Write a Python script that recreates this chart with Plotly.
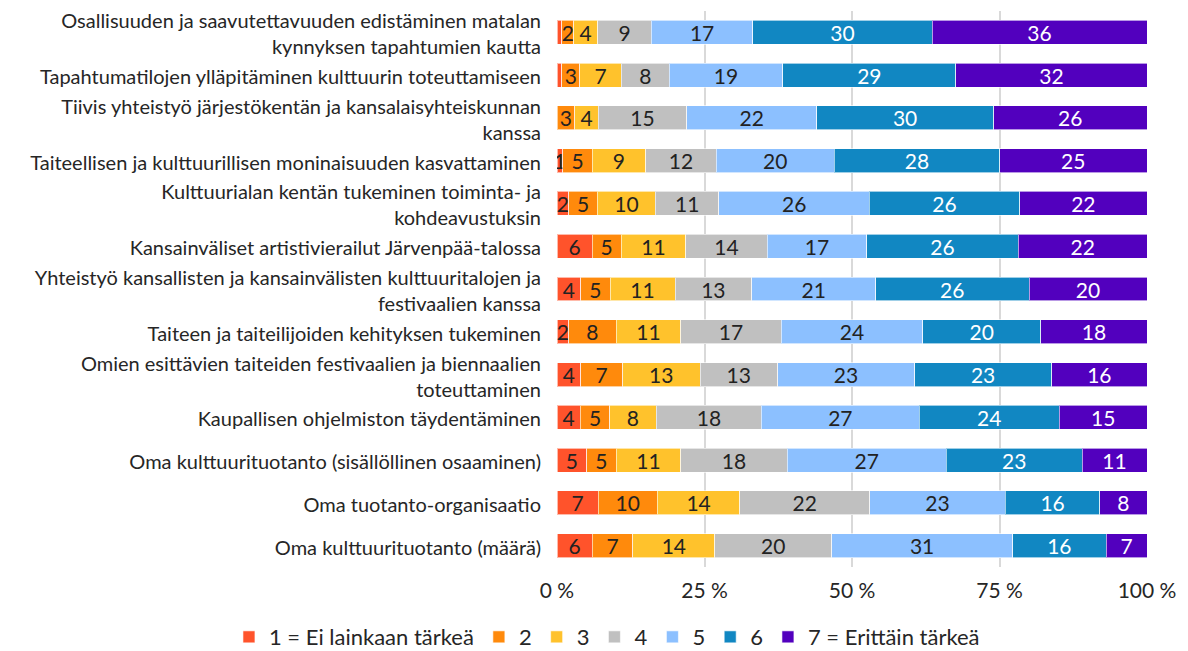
import plotly.graph_objects as go

categories = [
    "Osallisuuden ja saavutettavuuden edistäminen matalan<br>kynnyksen tapahtumien kautta",
    "Tapahtumatilojen ylläpitäminen kulttuurin toteuttamiseen",
    "Tiivis yhteistyö järjestökentän ja kansalaisyhteiskunnan<br>kanssa",
    "Taiteellisen ja kulttuurillisen moninaisuuden kasvattaminen",
    "Kulttuurialan kentän tukeminen toiminta- ja<br>kohdeavustuksin",
    "Kansainväliset artistivierailut Järvenpää-talossa",
    "Yhteistyö kansallisten ja kansainvälisten kulttuuritalojen ja<br>festivaalien kanssa",
    "Taiteen ja taiteilijoiden kehityksen tukeminen",
    "Omien esittävien taiteiden festivaalien ja biennaalien<br>toteuttaminen",
    "Kaupallisen ohjelmiston täydentäminen",
    "Oma kulttuurituotanto (sisällöllinen osaaminen)",
    "Oma tuotanto-organisaatio",
    "Oma kulttuurituotanto (määrä)",
]

series_names = ["1 = Ei lainkaan tärkeä", "2", "3", "4", "5", "6", "7 = Erittäin tärkeä"]

s1 = [0.8, 0.8, 0, 1, 2, 6, 4, 2, 4, 4, 5, 7, 6]
s2 = [2, 3, 3, 5, 5, 5, 5, 8, 7, 5, 5, 10, 7]
s3 = [4, 7, 4, 9, 10, 11, 11, 11, 13, 8, 11, 14, 14]
s4 = [9, 8, 15, 12, 11, 14, 13, 17, 13, 18, 18, 22, 20]
s5 = [17, 19, 22, 20, 26, 17, 21, 24, 23, 27, 27, 23, 31]
s6 = [30, 29, 30, 28, 26, 26, 26, 20, 23, 24, 23, 16, 16]
s7 = [36, 32, 26, 25, 22, 22, 20, 18, 16, 15, 11, 8, 7]

series_values = [s1, s2, s3, s4, s5, s6, s7]

colors = ["#FF532B", "#FF8A0C", "#FFC22C", "#C0C0C0", "#8CC0FF", "#1187C2", "#5200BE"]
text_colors = ["#222222"] * 5 + ["#FFFFFF"] * 2

tick_vals = [0, 25, 50, 75, 100]
tick_text = ["0 %", "25 %", "50 %", "75 %", "100 %"]

FONT = "Lato"

fig = go.Figure()
for name, vals, col, tcol in zip(series_names, series_values, colors, text_colors):
    labels = [str(int(round(v))) if v >= 1 else "" for v in vals]
    fig.add_trace(go.Bar(
        y=categories, x=vals, name=name, orientation="h",
        marker=dict(color=col, line=dict(color="rgba(255,255,255,0.6)", width=1)),
        text=labels, texttemplate="%{text}", textposition="inside",
        insidetextanchor="middle", textangle=0,
        textfont=dict(color=tcol, size=21, family=FONT),
    ))

fig.update_layout(
    barmode="stack", barnorm="percent", bargap=0.44,
    width=1188, height=651,
    margin=dict(l=549, r=49, t=3, b=92, autoexpand=False),
    plot_bgcolor="white", paper_bgcolor="white",
    font=dict(family=FONT, color="#262626"),
    uniformtext=dict(minsize=21, mode="show"),
    legend=dict(orientation="h", xref="paper", x=-0.556, xanchor="left",
                yref="paper", y=-0.126, yanchor="middle",
                font=dict(size=22), itemwidth=30, traceorder="normal"),
    showlegend=True,
)
fig.update_xaxes(range=[0, 100], tickvals=tick_vals, ticktext=tick_text,
                 showgrid=True, gridcolor="#D9D9D9", gridwidth=2,
                 zeroline=False, showline=False, ticks="",
                 tickfont=dict(size=21), ticklabelstandoff=9)
fig.update_yaxes(autorange="reversed", showgrid=False, showline=False, ticks="",
                 tickfont=dict(size=20), ticklabelstandoff=15, ticklabelshift=-2)

fig.write_html("out.html")
